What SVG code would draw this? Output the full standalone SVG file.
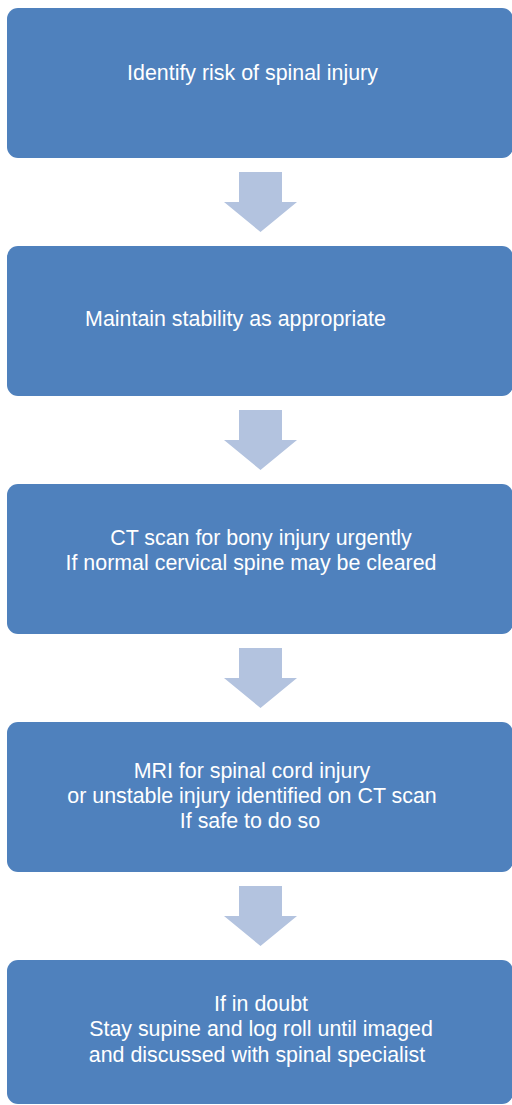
<svg xmlns="http://www.w3.org/2000/svg" width="512" height="1105" viewBox="0 0 512 1105">
<style>
.box{fill:#4f81bd;}
.arr{fill:#b3c3df;}
text{font-family:"Liberation Sans",Arial,sans-serif;font-size:21.4px;fill:#ffffff;text-anchor:middle;}
</style>
<rect width="512" height="1105" fill="#ffffff"/>
<g id="connectors">
<polygon class="arr" points="239,172 282,172 282,202 297,202 260.5,232 224,202 239,202"/>
<polygon class="arr" points="239,410 282,410 282,440 297,440 260.5,470 224,440 239,440"/>
<polygon class="arr" points="239,648 282,648 282,678 297,678 260.5,708 224,678 239,678"/>
<polygon class="arr" points="239,886 282,886 282,916 297,916 260.5,946 224,916 239,916"/>
</g>
<g id="node1">
<rect class="box" x="7" y="8" width="506" height="150" rx="11"/>
<text x="252.5" y="80">Identify risk of spinal injury</text>
</g>
<g id="node2">
<rect class="box" x="7" y="246" width="506" height="150" rx="11"/>
<text x="235.5" y="326">Maintain stability as appropriate</text>
</g>
<g id="node3">
<rect class="box" x="7" y="484" width="506" height="150" rx="11"/>
<text x="261" y="545">CT scan for bony injury urgently</text>
<text x="251" y="570">If normal cervical spine may be cleared</text>
</g>
<g id="node4">
<rect class="box" x="7" y="722" width="506" height="150" rx="11"/>
<text x="252" y="778">MRI for spinal cord injury</text>
<text x="252" y="803">or unstable injury identified on CT scan</text>
<text x="250" y="828">If safe to do so</text>
</g>
<g id="node5">
<rect class="box" x="7" y="960" width="506" height="144" rx="11"/>
<text x="261" y="1011">If in doubt</text>
<text x="261" y="1036">Stay supine and log roll until imaged</text>
<text x="257" y="1062">and discussed with spinal specialist</text>
</g>
</svg>
